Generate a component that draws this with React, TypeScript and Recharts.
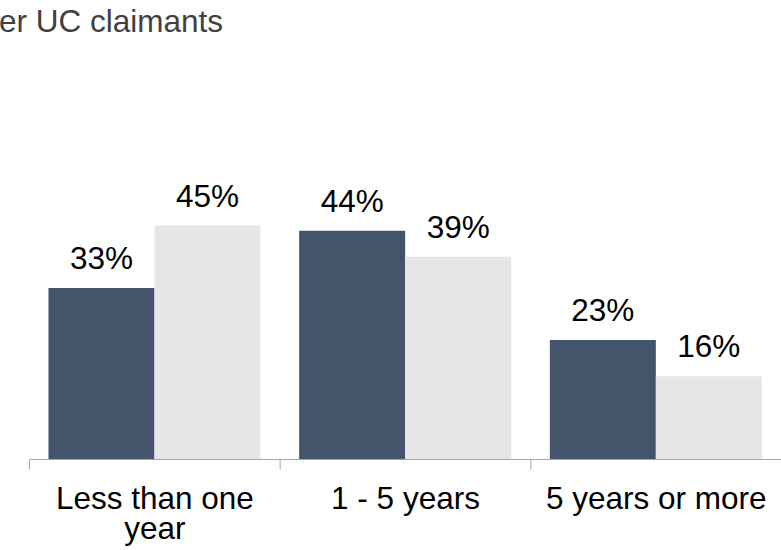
import React from "react";
import { BarChart, Bar, XAxis, YAxis, LabelList } from "recharts";

const categories = ["Less than one year", "1 - 5 years", "5 years or more"];
const seriesA = [33, 44, 23];
const seriesB = [45, 39, 16];
const headerText = "er UC claimants";

const data = categories.map((c, i) => ({ category: c, a: seriesA[i], b: seriesB[i] }));

const W = 782;
const H = 550;
const M = { top: 199.5, right: 0.5, left: 29.5, bottom: 0.5 };
const AXIS_H = 90;
const BAND = (W - M.left - M.right) / categories.length;
const FONT = "'Liberation Sans', Arial, sans-serif";
const FS = 31.5;
const AXIS_COLOR = "#a6a6a6";

let ctx: CanvasRenderingContext2D | null = null;
function measure(t: string): number {
  if (!ctx) {
    const c = document.createElement("canvas");
    ctx = c.getContext("2d");
  }
  if (!ctx) return t.length * FS * 0.5;
  ctx.font = `${FS}px 'Liberation Sans', Arial, sans-serif`;
  return ctx.measureText(t).width;
}

function wrap(text: string, maxW: number): string[] {
  const words = text.split(" ");
  const lines: string[] = [];
  let cur = "";
  for (const w of words) {
    const cand = cur ? cur + " " + w : w;
    if (cur && measure(cand) > maxW) {
      lines.push(cur);
      cur = w;
    } else {
      cur = cand;
    }
  }
  if (cur) lines.push(cur);
  return lines;
}

const Tick = (props: any) => {
  const { x, y, payload } = props;
  const lines = wrap(String(payload.value), BAND - 8);
  return (
    <g>
      <line x1={x - BAND / 2} x2={x - BAND / 2} y1={y} y2={y + 10} stroke={AXIS_COLOR} strokeWidth={1} />
      {lines.map((l, i) => (
        <text
          key={i}
          x={x}
          y={y + 49 + i * 30}
          textAnchor="middle"
          fontSize={FS}
          fontFamily={FONT}
          fill="#000"
        >
          {l}
        </text>
      ))}
    </g>
  );
};

const ValueLabel = (props: any) => {
  const { x, y, width, value } = props;
  return (
    <text
      x={Number(x) + Number(width) / 2}
      y={Number(y) - 19}
      textAnchor="middle"
      fontSize={FS}
      fontFamily={FONT}
      fill="#000"
    >
      {`${value}%`}
    </text>
  );
};

export default function App() {
  return (
    <div style={{ position: "absolute", left: 0, top: 0, width: 781, height: 550, overflow: "hidden", background: "#fff" }}>
      <svg width={781} height={60} style={{ position: "absolute", left: 0, top: 0 }}>
        <text x={-1} y={32} fontSize={FS} fontFamily={FONT} fill="#404040">
          {headerText}
        </text>
      </svg>
      <div style={{ position: "absolute", left: 0, top: 0 }}>
        <BarChart width={W} height={H} data={data} margin={M} barCategoryGap={19} barGap={0}>
          <XAxis
            dataKey="category"
            height={AXIS_H}
            interval={0}
            tickLine={false}
            tickSize={0}
            tickMargin={0}
            axisLine={{ stroke: AXIS_COLOR, strokeWidth: 1 }}
            tick={<Tick />}
          />
          <YAxis hide domain={[0, 50]} />
          <Bar dataKey="a" fill="#44546a" isAnimationActive={false}>
            <LabelList dataKey="a" content={<ValueLabel />} />
          </Bar>
          <Bar dataKey="b" fill="#e6e6e6" isAnimationActive={false}>
            <LabelList dataKey="b" content={<ValueLabel />} />
          </Bar>
        </BarChart>
      </div>
    </div>
  );
}
